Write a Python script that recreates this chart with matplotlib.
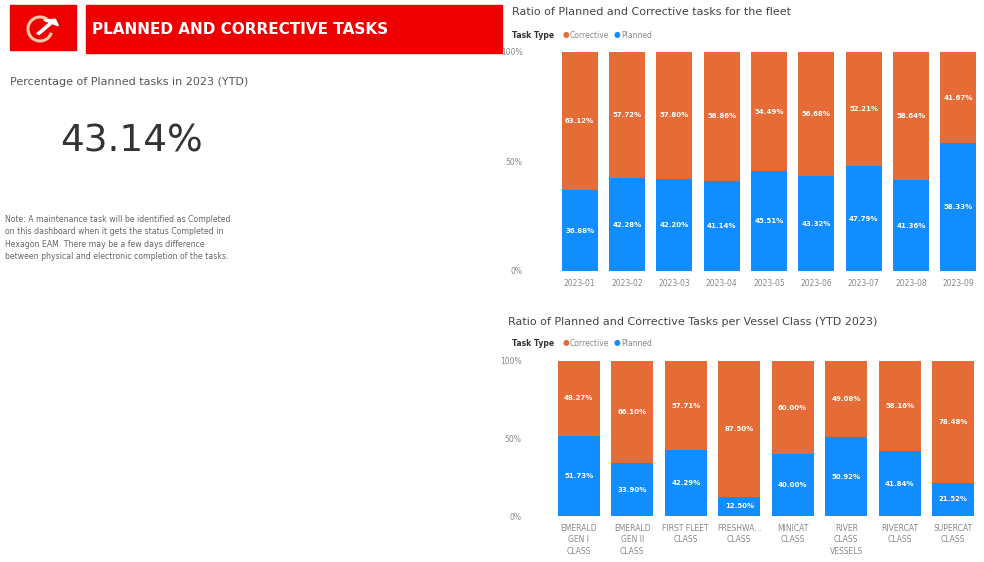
import numpy as np
import matplotlib.pyplot as plt
from matplotlib.patches import Rectangle, Arc, FancyArrow

months = ['2023-01', '2023-02', '2023-03', '2023-04', '2023-05', '2023-06', '2023-07', '2023-08', '2023-09']
fleet_planned = [36.88, 42.28, 42.20, 41.14, 45.51, 43.32, 47.79, 41.36, 58.33]
fleet_corrective = [63.12, 57.72, 57.80, 58.86, 54.49, 56.68, 52.21, 58.64, 41.67]

classes = ['EMERALD\nGEN I\nCLASS', 'EMERALD\nGEN II\nCLASS', 'FIRST FLEET\nCLASS', 'FRESHWA...\nCLASS',
           'MINICAT\nCLASS', 'RIVER\nCLASS\nVESSELS', 'RIVERCAT\nCLASS', 'SUPERCAT\nCLASS']
class_planned = [51.73, 33.90, 42.29, 12.50, 40.00, 50.92, 41.84, 21.52]
class_corrective = [48.27, 66.10, 57.71, 87.50, 60.00, 49.08, 58.16, 78.48]

kpi_value = '43.14%'

RED = '#EE0000'
ORANGE = '#E66C37'
BLUE = '#118DFF'
GREY = '#888888'

W, H = 984, 562
fig = plt.figure(figsize=(W / 100, H / 100), dpi=100)


def fx(px):
    return px / W


def fy(py):
    return 1 - py / H


# header
fig.add_artist(Rectangle((fx(10), fy(50)), fx(66), 45 / H, transform=fig.transFigure, color=RED))
fig.add_artist(Rectangle((fx(86), fy(53)), fx(416), 48 / H, transform=fig.transFigure, color=RED))
# logo: open ring with an arrow
fig.add_artist(Arc((fx(40), fy(29)), fx(24), 24 / H, theta1=60, theta2=330,
                   transform=fig.transFigure, color='#f6c9a8', lw=2.2))
fig.add_artist(FancyArrow(fx(38), fy(34), fx(13), 11 / H, width=0.003, head_width=0.018,
                          head_length=0.008, transform=fig.transFigure, color='white'))
fig.text(fx(92), fy(30), 'PLANNED AND CORRECTIVE TASKS', color='white', fontsize=11,
         fontweight='bold', ha='left', va='center')

# KPI card
fig.text(fx(10), fy(82), 'Percentage of Planned tasks in 2023 (YTD)', color='#555555', fontsize=8,
         ha='left', va='center')
fig.text(fx(132), fy(142), kpi_value, color='#333333', fontsize=27, ha='center', va='center')
note = ('Note: A maintenance task will be identified as Completed\n'
        'on this dashboard when it gets the status Completed in\n'
        'Hexagon EAM. There may be a few days difference\n'
        'between physical and electronic completion of the tasks.')
fig.text(fx(5), fy(238), note, color='#666666', fontsize=5.6, ha='left', va='center', linespacing=1.5)


def legend(y):
    fig.text(fx(512), fy(y), 'Task Type', color='#333333', fontsize=5.5, fontweight='bold', va='center')
    fig.text(fx(563), fy(y), '\u25CF', color=ORANGE, fontsize=5.5, va='center')
    fig.text(fx(570), fy(y), 'Corrective', color=GREY, fontsize=5.5, va='center')
    fig.text(fx(614), fy(y), '\u25CF', color=BLUE, fontsize=5.5, va='center')
    fig.text(fx(621), fy(y), 'Planned', color=GREY, fontsize=5.5, va='center')


def stacked(ax, labels, planned, corrective, width, label_pad):
    x = np.arange(len(labels))
    ax.bar(x, planned, width, color=BLUE)
    ax.bar(x, corrective, width, bottom=planned, color=ORANGE)
    for i in range(len(labels)):
        ax.text(x[i], planned[i] / 2, f'{planned[i]:.2f}%', color='white', fontsize=5,
                ha='center', va='center', fontweight='bold')
        ax.text(x[i], planned[i] + corrective[i] / 2, f'{corrective[i]:.2f}%', color='white',
                fontsize=5, ha='center', va='center', fontweight='bold')
    ax.set_xlim(-0.5, len(labels) - 0.5)
    ax.set_ylim(0, 100)
    ax.set_xticks(x)
    ax.set_xticklabels(labels, fontsize=5.5, color=GREY, linespacing=1.3)
    ax.set_yticks([0, 50, 100])
    ax.set_yticklabels(['0%', '50%', '100%'], fontsize=5.5, color=GREY)
    ax.tick_params(length=0)
    ax.tick_params(axis='y', pad=label_pad)
    ax.tick_params(axis='x', pad=6)
    for s in ax.spines.values():
        s.set_visible(False)


# fleet chart
fig.text(fx(512), fy(12), 'Ratio of Planned and Corrective tasks for the fleet', color='#444444',
         fontsize=8, va='center')
legend(35)
ax1 = fig.add_axes([fx(556), fy(271), fx(426), 219 / H])
stacked(ax1, months, fleet_planned, fleet_corrective, 0.76, 24)

# vessel class chart
fig.text(fx(508), fy(322), 'Ratio of Planned and Corrective Tasks per Vessel Class (YTD 2023)',
         color='#444444', fontsize=8, va='center')
legend(343)
ax2 = fig.add_axes([fx(552), fy(516), fx(428), 155 / H])
stacked(ax2, classes, class_planned, class_corrective, 0.78, 22)

fig.savefig('out.png', dpi=100)
